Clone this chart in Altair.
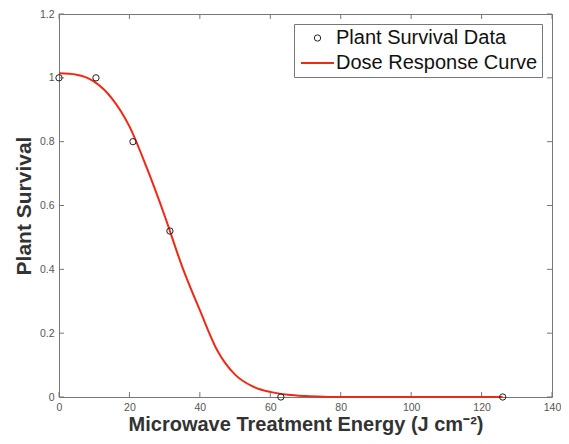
import altair as alt
import pandas as pd

# Measured data points
energy_pts = [0, 10.5, 21, 31.5, 63, 126]
survival_pts = [1.0, 1.0, 0.8, 0.52, 0.0, 0.0]

# Fitted dose-response curve
curve_energy = [0, 5, 10, 15, 20, 25, 30, 35, 40, 45, 50, 55, 60, 65, 70, 75, 80, 90, 100, 110, 120, 126]
curve_survival = [1.014, 1.010, 0.988, 0.936, 0.848, 0.716, 0.568, 0.408, 0.272, 0.145, 0.070, 0.033,
                  0.016, 0.007, 0.003, 0.001, 0.0, 0.0, 0.0, 0.0, 0.0, 0.0]

x_ticks = [0, 20, 40, 60, 80, 100, 120, 140]
y_ticks = [0, 0.2, 0.4, 0.6, 0.8, 1.0, 1.2]

series = ["Plant Survival Data", "Dose Response Curve"]

RED = "#f02814"
GRAY = "#777777"
FONT = "Liberation Sans"

pts = pd.DataFrame({"energy": energy_pts, "survival": survival_pts, "series": series[0]})
curve = pd.DataFrame({"energy": curve_energy, "survival": curve_survival})
xt = pd.DataFrame({"energy": x_ticks})
yt = pd.DataFrame({"survival": y_ticks})

xscale = alt.Scale(domain=[0, 140], nice=False, zero=False)
yscale = alt.Scale(domain=[0, 1.2], nice=False, zero=False)

xaxis = alt.Axis(values=x_ticks, format="d", domain=False, ticks=False, grid=False,
                 labelFont=FONT, labelFontSize=10.5, labelColor="#555555", labelPadding=5,
                 labelFlush=False,
                 title="Microwave Treatment Energy (J cm\u207b\u00b2)", titleFont=FONT,
                 titleFontSize=20, titleFontWeight="bold", titleColor="#333333", titlePadding=2)
yaxis = alt.Axis(values=y_ticks, format="~g", domain=False, ticks=False, grid=False,
                 labelFont=FONT, labelFontSize=10.5, labelColor="#555555", labelPadding=5,
                 labelFlush=False,
                 title="Plant Survival", titleFont=FONT, titleFontSize=21,
                 titleFontWeight="bold", titleColor="#333333", titlePadding=5)

X = alt.X("energy:Q", scale=xscale, axis=xaxis)
Y = alt.Y("survival:Q", scale=yscale, axis=yaxis)

W, H, TL = 493, 383, 5

line = alt.Chart(curve).mark_line(color=RED, strokeWidth=2, interpolate="monotone").encode(x=X, y=Y)

legend = alt.Legend(title=None, orient="none", legendX=235, legendY=10, direction="vertical",
                    fillColor="white", strokeColor=GRAY, padding=4, symbolOffset=9.5,
                    labelOffset=8.5, labelFont=FONT, labelFontSize=20, labelColor="#111111",
                    labelLimit=400, rowPadding=5, symbolFillColor="transparent")

points = alt.Chart(pts).mark_point(filled=False, opacity=1).encode(
    x=X, y=Y,
    color=alt.Color("series:N", scale=alt.Scale(domain=series, range=["#222222", RED]), legend=legend),
    shape=alt.Shape("series:N", scale=alt.Scale(domain=series, range=["circle", "M-2.75,0H2.75"]), legend=legend),
    size=alt.Size("series:N", scale=alt.Scale(domain=series, range=[40, 144]), legend=legend),
    strokeWidth=alt.StrokeWidth("series:N", scale=alt.Scale(domain=series, range=[1, 2]), legend=legend),
)

tick_bottom = alt.Chart(xt).mark_rule(color=GRAY).encode(x=X, y=alt.value(H), y2=alt.value(H - TL))
tick_top = alt.Chart(xt).mark_rule(color=GRAY).encode(x=X, y=alt.value(0), y2=alt.value(TL))
tick_left = alt.Chart(yt).mark_rule(color=GRAY).encode(y=Y, x=alt.value(0), x2=alt.value(TL))
tick_right = alt.Chart(yt).mark_rule(color=GRAY).encode(y=Y, x=alt.value(W), x2=alt.value(W - TL))

chart = alt.layer(tick_bottom, tick_top, tick_left, tick_right, line, points).properties(
    width=W, height=H,
    autosize=alt.AutoSizeParams(type="none"),
    padding={"left": 51, "top": 6, "right": 9, "bottom": 39},
    background="white",
).configure_view(stroke=GRAY, strokeWidth=1)

chart.save("out.html", embed_options={"renderer": "svg", "actions": False})
